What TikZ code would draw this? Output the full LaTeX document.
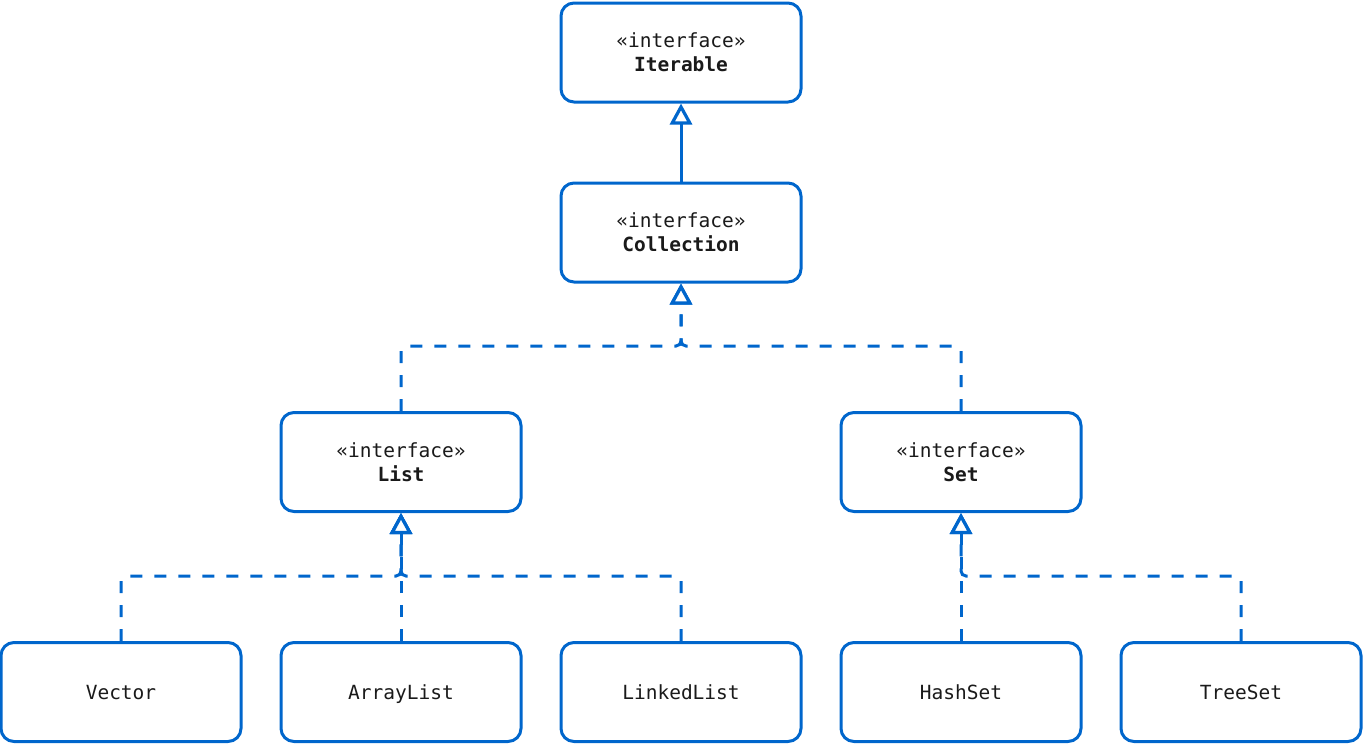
\documentclass[tikz,border=0pt]{standalone}
\usepackage{fontspec}
\setmonofont{DejaVu Sans Mono}
\usetikzlibrary{arrows.meta}
\definecolor{umlblue}{HTML}{0066CC}
\definecolor{umltext}{HTML}{1A1A1A}
\begin{document}
\begin{tikzpicture}[x=1pt,y=-1pt,
  basebox/.style={draw=umlblue, line width=3pt, rounded corners=13pt, fill=white,
    minimum width=240pt, minimum height=99pt, inner sep=0pt,
    text=umltext, font=\ttfamily\fontsize{19.5}{24}\selectfont},
  box/.style={basebox, align=center},
  single/.style={basebox, text height=14pt, text depth=0pt},
  gen/.style={draw=umlblue, line width=3pt,
    -{Triangle[open,length=21pt,width=22pt,fill=white,line width=3.2pt]}},
  real/.style={gen, dash pattern=on 12pt off 12pt, rounded corners=5pt}]
\useasboundingbox (0,0) rectangle (1363,744);
\node[box] (iter) at (681,52.5) {«interface»\\\textbf{Iterable}};
\node[box] (coll) at (681,232.5) {«interface»\\\textbf{Collection}};
\node[box] (list) at (401,462) {«interface»\\\textbf{List}};
\node[box] (set)  at (961,462) {«interface»\\\textbf{Set}};
\node[single] (vec)  at (121,692) {Vector};
\node[single] (arr)  at (401,692) {ArrayList};
\node[single] (lnk)  at (681,692) {LinkedList};
\node[single] (hs)   at (961,692) {HashSet};
\node[single] (ts)   at (1241,692) {TreeSet};
\coordinate (jc) at (681,346);
\coordinate (jl) at (401,576);
\coordinate (js) at (961,576);
\draw[gen] (coll.north) -- (iter.south);
\draw[real] (list.north) |- (jc) -- (coll.south);
\draw[real] (set.north) |- (jc) -- (coll.south);
\draw[real] (vec.north) |- (jl) -- (list.south);
\draw[real] (arr.north) -- (list.south);
\draw[real] (lnk.north) |- (jl) -- (list.south);
\draw[real] (hs.north) -- (set.south);
\draw[real] (ts.north) |- (js) -- (set.south);
\end{tikzpicture}
\end{document}
